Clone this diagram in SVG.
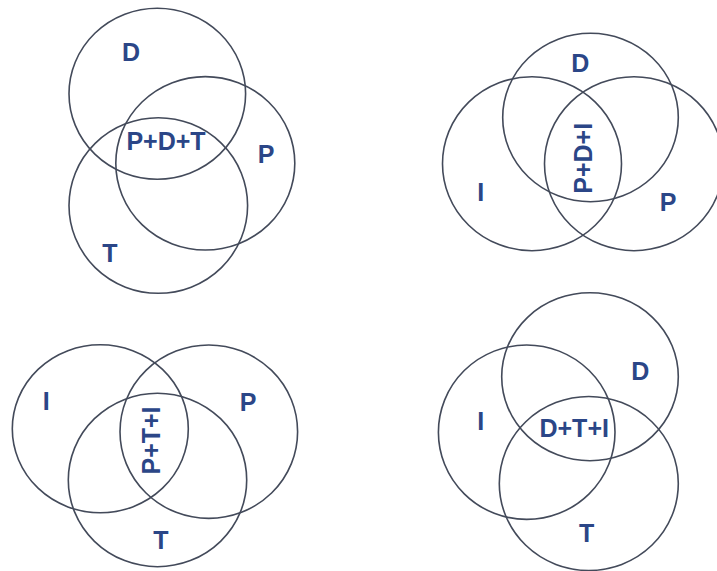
<svg xmlns="http://www.w3.org/2000/svg" width="717" height="571" viewBox="0 0 717 571">
<style>
.c{fill:none;stroke:#434a5a;stroke-width:1.6}
.t{font-family:"Liberation Sans",Arial,sans-serif;font-weight:bold;font-size:25px;fill:#2b4687;text-anchor:middle}
</style>
<rect width="717" height="571" fill="#ffffff"/>
<g id="venn-pdt">
<ellipse class="c" cx="157.3" cy="93.7" rx="88.3" ry="85.5"/>
<ellipse class="c" cx="205.3" cy="163.3" rx="89.5" ry="86.7"/>
<ellipse class="c" cx="158.3" cy="205.5" rx="89.3" ry="87.8"/>
<text class="t" x="131" y="60.7">D</text>
<text class="t" x="266" y="163">P</text>
<text class="t" x="110" y="261.7">T</text>
<text class="t" x="166" y="150">P+D+T</text>
</g>
<g id="venn-pdi">
<ellipse class="c" cx="590.5" cy="117.5" rx="87.8" ry="84.2"/>
<ellipse class="c" cx="532" cy="163.7" rx="89.5" ry="87"/>
<ellipse class="c" cx="634" cy="163.7" rx="89.5" ry="87"/>
<text class="t" x="580.3" y="71.7">D</text>
<text class="t" x="480.7" y="201">I</text>
<text class="t" x="668" y="210.7">P</text>
<text class="t" transform="translate(591.5,158.3) rotate(-90)">P+D+I</text>
</g>
<g id="venn-pti">
<ellipse class="c" cx="100.3" cy="428.8" rx="88" ry="84"/>
<ellipse class="c" cx="208.8" cy="431.7" rx="88.8" ry="86.7"/>
<ellipse class="c" cx="157.5" cy="480" rx="89.2" ry="86.7"/>
<text class="t" x="46.3" y="410">I</text>
<text class="t" x="248" y="410.7">P</text>
<text class="t" x="160.8" y="549.3">T</text>
<text class="t" transform="translate(159.5,440.5) rotate(-90)">P+T+I</text>
</g>
<g id="venn-dti">
<ellipse class="c" cx="590" cy="376.7" rx="88.3" ry="84"/>
<ellipse class="c" cx="526.7" cy="432.2" rx="88.3" ry="87.2"/>
<ellipse class="c" cx="588.8" cy="483.5" rx="89.5" ry="87"/>
<text class="t" x="640.3" y="380">D</text>
<text class="t" x="480.7" y="430">I</text>
<text class="t" x="586.7" y="541.7">T</text>
<text class="t" x="574.2" y="436.7">D+T+I</text>
</g>
<g id="connectors"></g>
</svg>
